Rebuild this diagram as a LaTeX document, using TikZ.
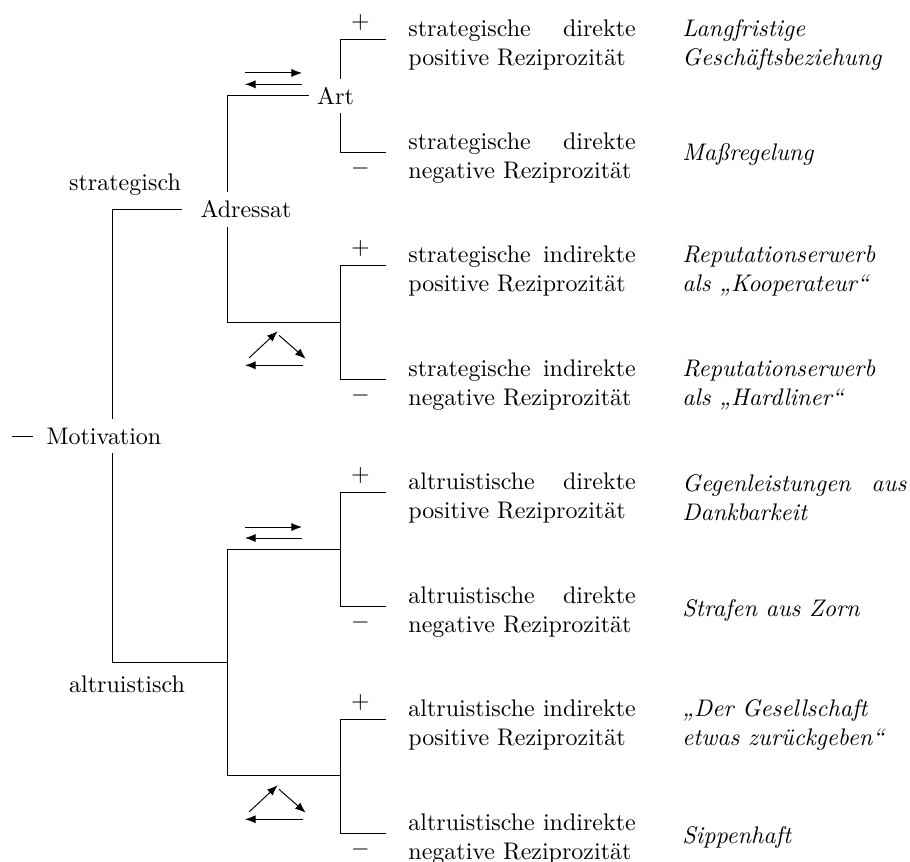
\documentclass[tikz,border=0pt]{standalone}
\usetikzlibrary{arrows.meta}
\begin{document}
\begin{tikzpicture}
	\tikzstyle{every node}=[]
	\tikzstyle{branch}=[shorten >=5.8pt]
	\tikzstyle{reziprok}=[anchor=west, text width=3.33cm, align=justify]
	\tikzstyle{beispiel}=[anchor=west, text width=3.28cm, align=justify, font=\itshape]
	\tikzstyle{pfeil}=[-{Latex[length=4.4pt,width=3.4pt]}]

	\useasboundingbox (0,0) rectangle (13.328,12.625);

	\node (mot) at (1.523,6.239) {Motivation};
	\node (strat) at (1.831,9.915) {strategisch};
	\node (altr) at (1.860,2.607) {altruistisch};
	\node (adr) at (3.603,9.557) {Adressat};
	\node (art) at (4.914,11.219) {Art};
	\coordinate (stub) at (0.176,6.239);
	\coordinate (sij) at (4.980,7.909);
	\coordinate (altj) at (3.325,2.915);
	\coordinate (adj) at (4.980,4.584);
	\coordinate (aij) at (4.980,1.260);

	\node[reziprok] (sdp) at (5.858,11.965) {strategische direkte positive Reziprozität};
	\node[reziprok] (sdn) at (5.858,10.310) {strategische direkte negative Reziprozität};
	\node[reziprok] (sip) at (5.858,8.655) {strategische indirekte positive Reziprozität};
	\node[reziprok] (sin) at (5.858,6.986) {strategische indirekte negative Reziprozität};
	\node[reziprok] (adp) at (5.858,5.331) {altruistische direkte positive Reziprozität};
	\node[reziprok] (adn) at (5.858,3.661) {altruistische direkte negative Reziprozität};
	\node[reziprok] (aip) at (5.858,2.006) {altruistische indirekte positive Reziprozität};
	\node[reziprok] (ain) at (5.858,0.336) {altruistische indirekte negative Reziprozität};

	\node[beispiel] (sdpb) at (9.871,11.965) {Langfristige Geschäftsbeziehung};
	\node[beispiel] (sdnb) at (9.871,10.355) {Maßregelung};
	\node[beispiel] (sipb) at (9.871,8.655) {Reputationserwerb\\als „Kooperateur“};
	\node[beispiel] (sinb) at (9.871,6.986) {Reputationserwerb\\als „Hardliner“};
	\node[beispiel] (adpb) at (9.871,5.331) {Gegenleistungen aus Dankbarkeit};
	\node[beispiel] (adnb) at (9.871,3.690) {Strafen aus Zorn};
	\node[beispiel] (aipb) at (9.871,2.006) {„Der Gesellschaft\\etwas zurückgeben“};
	\node[beispiel] (ainb) at (9.871,0.365) {Sippenhaft};

	\draw[shorten >=2pt] (stub) -- (mot.west);
	\draw[shorten >=4.2pt] ([xshift=0.13cm]mot.north) |- (adr.west);
	\draw ([xshift=0.13cm]mot.south) |- (altj);
	\draw (adr.north -| altj) |- (art.west);
	\draw (adr.south -| altj) |- (sij);
	\draw (altj) |- (adj);
	\draw (altj) |- (aij);

	\draw[branch] (art.north -| sij) |- node[pos=.67,above] (sdp-s) {$+$} ([yshift=2.4pt]sdp.west);
	\draw[branch] (art.south -| sij) |- node[pos=.67,below] (sdn-s) {$-$} ([yshift=2.4pt]sdn.west);
	\draw[branch] (sij) |- node[pos=.67,above] (sip-s) {$+$} ([yshift=2.4pt]sip.west);
	\draw[branch] (sij) |- node[pos=.67,below] (sin-s) {$-$} ([yshift=2.4pt]sin.west);
	\draw[branch] (adj) |- node[pos=.67,above] (adp-s) {$+$} ([yshift=2.4pt]adp.west);
	\draw[branch] (adj) |- node[pos=.67,below] (adn-s) {$-$} ([yshift=2.4pt]adn.west);
	\draw[branch] (aij) |- node[pos=.67,above] (aip-s) {$+$} ([yshift=2.4pt]aip.west);
	\draw[branch] (aij) |- node[pos=.67,below] (ain-s) {$-$} ([yshift=2.4pt]ain.west);

	% direkt
	\draw[pfeil] (3.588,11.556) -- (4.423,11.556);
	\draw[pfeil] (4.423,11.390) -- (3.588,11.390);
	\draw[pfeil] (3.588,4.906) -- (4.423,4.906);
	\draw[pfeil] (4.423,4.745) -- (3.588,4.745);
	% indirekt
	\draw[pfeil] (3.647,7.382) -- (4.067,7.773);
	\draw[pfeil] (4.086,7.714) -- (4.477,7.371);
	\draw[pfeil] (4.442,7.275) -- (3.588,7.275);
	\draw[pfeil] (3.647,0.733) -- (4.067,1.124);
	\draw[pfeil] (4.086,1.065) -- (4.477,0.722);
	\draw[pfeil] (4.442,0.626) -- (3.588,0.626);
\end{tikzpicture}
\end{document}
